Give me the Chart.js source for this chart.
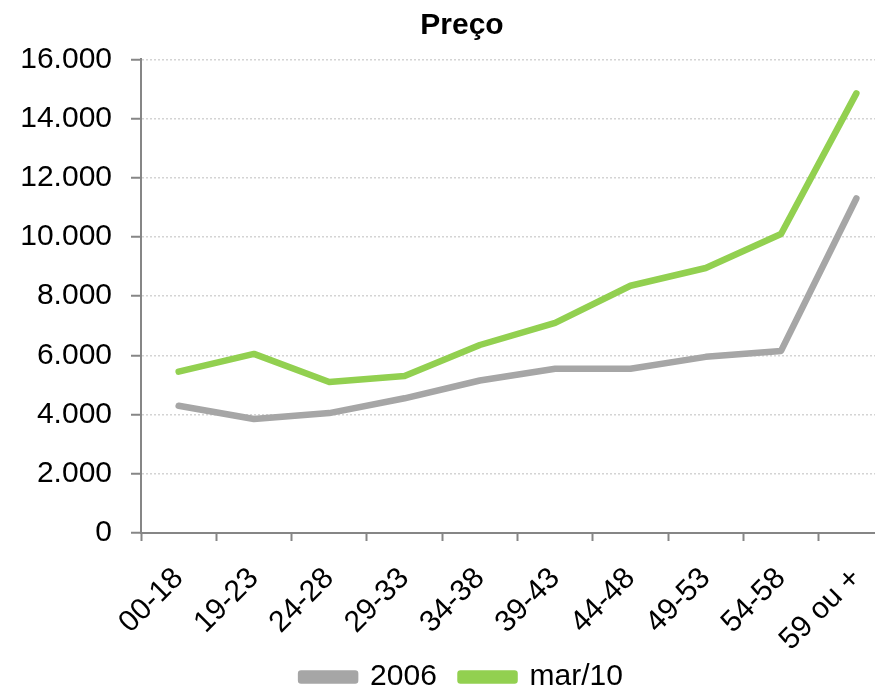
<!DOCTYPE html>
<html>
<head>
<meta charset="utf-8">
<script src="https://cdn.jsdelivr.net/npm/chart.js@4.4.1/dist/chart.umd.min.js"></script>
<style>
  html, body { margin: 0; padding: 0; background: #fff; overflow: hidden; }
  #wrap { width: 924px; height: 692px; }
</style>
</head>
<body>
<div id="wrap"><canvas id="ch" width="924" height="692"></canvas></div>
<script>
// faixas etárias e preço médio
const FAIXAS = ["00-18", "19-23", "24-28", "29-33", "34-38", "39-43", "44-48", "49-53", "54-58", "59 ou +"];
const P2006 = [4300, 3850, 4050, 4550, 5150, 5550, 5550, 5950, 6150, 11300];
const PMAR10 = [5450, 6050, 5100, 5300, 6350, 7100, 8350, 8950, 10100, 14850];
const Y_TICKS = [0, 2000, 4000, 6000, 8000, 10000, 12000, 14000, 16000];

const FONT = "'Liberation Sans', Arial, sans-serif";
const AX = "#868686";
const fmtN = v => String(v).replace(/\B(?=(\d{3})+(?!\d))/g, ".");

const ds = (label, data, color) => ({
  label, data, borderColor: color, backgroundColor: color, borderWidth: 6.5,
  tension: 0, pointRadius: 0, pointHoverRadius: 0, fill: false,
  borderCapStyle: "round", borderJoinStyle: "round", yAxisID: "y"
});

// legenda: espaço extra depois do primeiro item
const legLabels = c => Chart.defaults.plugins.legend.labels.generateLabels(c)
  .map((l, i) => i === 0 ? { ...l, text: l.text + "  " } : l);

new Chart(document.getElementById("ch"), {
  type: "line",
  data: { labels: FAIXAS, datasets: [ds("2006", P2006, "#A6A6A6"), ds("mar/10", PMAR10, "#92D050")] },
  options: {
    responsive: false, devicePixelRatio: 1, animation: false,
    layout: { padding: { left: 0, right: 0, top: 0, bottom: -10 } },
    plugins: {
      title: { display: true, text: "Preço", color: "#000", font: { family: FONT, size: 30, weight: "bold" }, padding: { top: 8, bottom: 15.3 } },
      legend: { position: "bottom", labels: { color: "#000", font: { family: FONT, size: 30 }, boxWidth: 54, boxHeight: 7, padding: 7, generateLabels: legLabels } },
      tooltip: { enabled: false }
    },
    scales: {
      x: {
        type: "category", offset: true,
        grid: { offset: true, drawOnChartArea: false, drawTicks: true, tickLength: 8, tickColor: AX, tickWidth: 2 },
        border: { display: true, color: AX, width: 2 },
        ticks: { color: "#000", font: { family: FONT, size: 30 }, minRotation: 45, maxRotation: 45, padding: 20, autoSkip: false },
        afterFit: s => { s.height = 122; }
      },
      y: {
        type: "linear", position: "left", min: 0, max: 16000,
        afterBuildTicks: s => { s.ticks = Y_TICKS.map(v => ({ value: v })); },
        grid: { color: "#d4d4d4", lineWidth: 1.5, tickLength: 10, tickColor: AX, tickWidth: 2, tickBorderDash: [] },
        border: { display: true, color: AX, width: 2, dash: [2, 2] },
        ticks: { color: "#000", font: { family: FONT, size: 30 }, padding: 19, callback: v => fmtN(v) },
        afterFit: s => { s.width = 141; }
      },
      yR: {
        type: "linear", position: "right", display: true,
        grid: { display: false, drawTicks: false }, border: { display: false }, ticks: { display: false },
        afterFit: s => { s.width = 30; }
      }
    }
  }
});
</script>
</body>
</html>
